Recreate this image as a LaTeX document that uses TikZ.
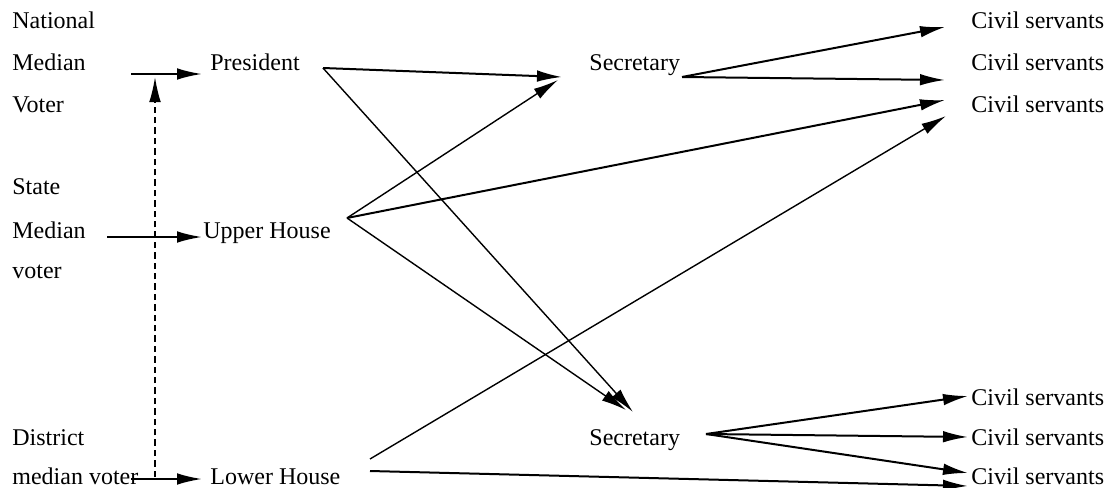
\documentclass[tikz,border=0pt]{standalone}
\usepackage{fontspec}
\setmainfont{Liberation Serif}
\usetikzlibrary{arrows.meta}
\begin{document}
\begin{tikzpicture}[x=0.5pt,y=-0.5pt,
  lbl/.style={anchor=base west, inner sep=0pt, font=\fontsize{12}{14}\selectfont},
  arr/.style={line width=1pt, -{Latex[length=12.5pt,width=5.8pt]}},
  tarr/.style={line width=0.7pt, -{Latex[length=12.5pt,width=5.8pt]}},
  dasharr/.style={line width=0.75pt, dash pattern=on 3.2pt off 2pt, -{Latex[length=12.5pt,width=5.8pt]}}]
\useasboundingbox (0,0) rectangle (1107,487);
% left column
\node[lbl] (nat1) at (12,28) {National};
\node[lbl] (nat2) at (12,70) {Median};
\node[lbl] (nat3) at (12,112) {Voter};
\node[lbl] (st1) at (12,194) {State};
\node[lbl] (st2) at (12,238) {Median};
\node[lbl] (st3) at (12,278) {voter};
\node[lbl] (d1) at (12,445) {District};
\node[lbl] (d2) at (12,484) {median voter};
% institutions
\node[lbl] (pres) at (210,70) {President};
\node[lbl] (upper) at (203,238) {Upper House};
\node[lbl] (lower) at (210,484) {Lower House};
\node[lbl] (sec1) at (589,70) {Secretary};
\node[lbl] (sec2) at (589,445) {Secretary};
% civil servants
\node[lbl] (cs1) at (971,28) {Civil servants};
\node[lbl] (cs2) at (971,70) {Civil servants};
\node[lbl] (cs3) at (971,112) {Civil servants};
\node[lbl] (cs4) at (971,405) {Civil servants};
\node[lbl] (cs5) at (971,445) {Civil servants};
\node[lbl] (cs6) at (971,484) {Civil servants};
% ports
\coordinate (natout) at (131,74);
\coordinate (presin) at (202,74);
\coordinate (stout) at (107,237);
\coordinate (upin) at (202,237);
\coordinate (dout) at (131,479);
\coordinate (lowin) at (202,479);
\coordinate (dashstart) at (155,477);
\coordinate (dashend) at (155,77);
\coordinate (presout) at (323,68);
\coordinate (upout) at (347,218);
\coordinate (lowout1) at (370,459);
\coordinate (lowout2) at (370,471);
\coordinate (seconein1) at (562,77);
\coordinate (seconein2) at (558,80);
\coordinate (sectwoin1) at (633,412);
\coordinate (sectwoin2) at (626,410);
\coordinate (seconeout) at (682,77);
\coordinate (sectwoout) at (706,434);
\coordinate (csonein) at (945,27);
\coordinate (cstwoin) at (945,80);
\coordinate (csthreein1) at (945,100);
\coordinate (csthreein2) at (946,116);
\coordinate (csfourin) at (968,396);
\coordinate (csfivein) at (968,437);
\coordinate (cssixin1) at (968,473);
\coordinate (cssixin2) at (968,486);
% voter arrows
\draw[arr] (natout) -- (presin);
\draw[arr] (stout) -- (upin);
\draw[arr] (dout) -- (lowin);
\draw[dasharr] (dashstart) -- (dashend);
% institutions to secretaries
\draw[arr] (presout) -- (seconein1);
\draw[tarr] (presout) -- (sectwoin1);
\draw[tarr] (upout) -- (seconein2);
\draw[tarr] (upout) -- (sectwoin2);
\draw[arr] (upout) -- (csthreein1);
\draw[tarr] (lowout1) -- (csthreein2);
\draw[arr] (lowout2) -- (cssixin2);
% secretaries to civil servants
\draw[arr] (seconeout) -- (csonein);
\draw[arr] (seconeout) -- (cstwoin);
\draw[arr] (sectwoout) -- (csfourin);
\draw[arr] (sectwoout) -- (csfivein);
\draw[arr] (sectwoout) -- (cssixin1);
\end{tikzpicture}
\end{document}
